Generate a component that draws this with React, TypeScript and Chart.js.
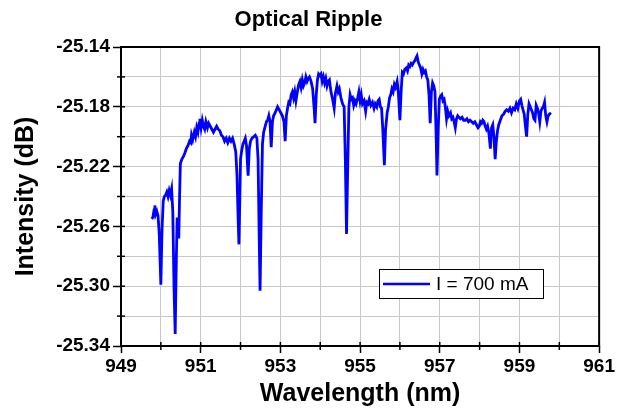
import { useEffect, useRef } from "react";
import { Chart, registerables } from "chart.js";

Chart.register(...registerables);

const chartTitle = "Optical Ripple";
const seriesLabel = "I = 700 mA";
const xAxisTitle = "Wavelength (nm)";
const yAxisTitle = "Intensity (dB)";

const xTickValues = [949, 950, 951, 952, 953, 954, 955, 956, 957, 958, 959, 960, 961];
const xLabelValues = [949, 951, 953, 955, 957, 959, 961];
const yTickValues = [-25.34, -25.32, -25.3, -25.28, -25.26, -25.24, -25.22, -25.2, -25.18, -25.16, -25.14];
const yLabelValues = [-25.34, -25.3, -25.26, -25.22, -25.18, -25.14];

const wavelengthNm = [
  949.77, 949.80, 949.83, 949.85, 949.87, 949.90, 949.93, 949.96, 950.00, 950.03,
  950.06, 950.09, 950.12, 950.15, 950.18, 950.21, 950.24, 950.27, 950.30, 950.33,
  950.36, 950.39, 950.41, 950.43, 950.45, 950.47, 950.49, 950.53, 950.57, 950.60,
  950.64, 950.68, 950.72, 950.75, 950.77, 950.80, 950.84, 950.87, 950.90, 950.93,
  950.96, 950.98, 951.01, 951.04, 951.07, 951.10, 951.13, 951.17, 951.20, 951.24,
  951.28, 951.32, 951.36, 951.40, 951.44, 951.48, 951.52, 951.56, 951.60, 951.64,
  951.68, 951.72, 951.76, 951.80, 951.84, 951.88, 951.91, 951.94, 951.96, 951.98,
  952.00, 952.03, 952.06, 952.09, 952.12, 952.15, 952.19, 952.22, 952.25, 952.29,
  952.33, 952.37, 952.41, 952.44, 952.47, 952.49, 952.52, 952.55, 952.58, 952.62,
  952.65, 952.68, 952.71, 952.74, 952.77, 952.80, 952.83, 952.87, 952.90, 952.93,
  952.97, 953.01, 953.05, 953.09, 953.12, 953.15, 953.18, 953.21, 953.24, 953.27,
  953.30, 953.33, 953.36, 953.39, 953.42, 953.46, 953.49, 953.52, 953.55, 953.58,
  953.61, 953.64, 953.67, 953.70, 953.73, 953.77, 953.81, 953.85, 953.87, 953.90,
  953.93, 953.96, 953.99, 954.02, 954.05, 954.08, 954.11, 954.14, 954.17, 954.20,
  954.23, 954.27, 954.31, 954.35, 954.38, 954.42, 954.45, 954.48, 954.52, 954.56,
  954.60, 954.63, 954.66, 954.69, 954.72, 954.75, 954.78, 954.81, 954.84, 954.87,
  954.90, 954.94, 954.97, 955.00, 955.03, 955.06, 955.10, 955.14, 955.17, 955.20,
  955.23, 955.27, 955.31, 955.35, 955.38, 955.42, 955.45, 955.48, 955.51, 955.54,
  955.57, 955.61, 955.64, 955.68, 955.71, 955.74, 955.77, 955.80, 955.83, 955.86,
  955.89, 955.93, 955.96, 956.00, 956.03, 956.06, 956.09, 956.12, 956.16, 956.19,
  956.22, 956.25, 956.28, 956.31, 956.35, 956.38, 956.41, 956.43, 956.46, 956.49,
  956.52, 956.55, 956.58, 956.61, 956.64, 956.67, 956.70, 956.73, 956.76, 956.79,
  956.82, 956.85, 956.88, 956.91, 956.93, 956.96, 956.99, 957.02, 957.05, 957.08,
  957.11, 957.14, 957.17, 957.20, 957.23, 957.27, 957.30, 957.33, 957.36, 957.39,
  957.42, 957.45, 957.48, 957.52, 957.56, 957.60, 957.64, 957.68, 957.72, 957.76,
  957.80, 957.84, 957.88, 957.92, 957.96, 957.99, 958.02, 958.05, 958.08, 958.11,
  958.14, 958.17, 958.20, 958.23, 958.27, 958.30, 958.33, 958.36, 958.39, 958.42,
  958.45, 958.48, 958.52, 958.56, 958.60, 958.64, 958.68, 958.72, 958.76, 958.80,
  958.84, 958.88, 958.92, 958.96, 959.00, 959.03, 959.06, 959.09, 959.12, 959.15,
  959.18, 959.21, 959.24, 959.27, 959.30, 959.33, 959.36, 959.39, 959.42, 959.45,
  959.48, 959.51, 959.54, 959.57, 959.60, 959.63, 959.66, 959.69, 959.72, 959.75,
  959.79,
];

const intensityDb = [
  -25.255, -25.254, -25.249, -25.246, -25.252, -25.250, -25.253, -25.265, -25.299, -25.262,
  -25.243, -25.240, -25.239, -25.237, -25.240, -25.236, -25.239, -25.235, -25.250, -25.300,
  -25.332, -25.280, -25.254, -25.262, -25.268, -25.240, -25.218, -25.215, -25.213, -25.211,
  -25.208, -25.206, -25.203, -25.204, -25.199, -25.202, -25.197, -25.200, -25.194, -25.197,
  -25.191, -25.188, -25.194, -25.189, -25.193, -25.195, -25.190, -25.194, -25.191, -25.193,
  -25.195, -25.197, -25.195, -25.193, -25.195, -25.196, -25.199, -25.200, -25.203, -25.201,
  -25.204, -25.201, -25.203, -25.201, -25.205, -25.210, -25.225, -25.255, -25.272, -25.245,
  -25.215, -25.209, -25.205, -25.203, -25.201, -25.206, -25.226, -25.208, -25.203, -25.201,
  -25.200, -25.199, -25.201, -25.215, -25.270, -25.303, -25.250, -25.205, -25.197, -25.193,
  -25.190, -25.189, -25.186, -25.190, -25.207, -25.190, -25.186, -25.184, -25.182, -25.180,
  -25.182, -25.184, -25.186, -25.190, -25.203, -25.186, -25.181, -25.177, -25.178, -25.172,
  -25.170, -25.174, -25.170, -25.176, -25.171, -25.165, -25.163, -25.167, -25.162, -25.166,
  -25.164, -25.160, -25.163, -25.161, -25.160, -25.163, -25.168, -25.182, -25.191, -25.172,
  -25.162, -25.158, -25.159, -25.158, -25.163, -25.160, -25.164, -25.161, -25.166, -25.163,
  -25.162, -25.170, -25.175, -25.181, -25.171, -25.166, -25.170, -25.168, -25.174, -25.178,
  -25.180, -25.215, -25.265, -25.220, -25.180, -25.172, -25.175, -25.174, -25.179, -25.176,
  -25.178, -25.174, -25.170, -25.176, -25.172, -25.178, -25.176, -25.183, -25.177, -25.178,
  -25.175, -25.179, -25.177, -25.181, -25.178, -25.180, -25.176, -25.175, -25.180, -25.181,
  -25.195, -25.219, -25.195, -25.184, -25.180, -25.174, -25.172, -25.168, -25.170, -25.165,
  -25.167, -25.163, -25.170, -25.189, -25.170, -25.157, -25.158, -25.155, -25.154, -25.156,
  -25.152, -25.153, -25.151, -25.152, -25.150, -25.149, -25.147, -25.146, -25.150, -25.152,
  -25.154, -25.158, -25.155, -25.157, -25.156, -25.160, -25.162, -25.172, -25.191, -25.170,
  -25.164, -25.166, -25.170, -25.200, -25.226, -25.195, -25.175, -25.173, -25.172, -25.176,
  -25.175, -25.180, -25.188, -25.183, -25.186, -25.184, -25.188, -25.187, -25.190, -25.194,
  -25.188, -25.186, -25.187, -25.188, -25.187, -25.189, -25.189, -25.188, -25.190, -25.189,
  -25.190, -25.191, -25.190, -25.192, -25.194, -25.193, -25.190, -25.191, -25.189, -25.190,
  -25.193, -25.195, -25.193, -25.197, -25.208, -25.194, -25.192, -25.200, -25.215, -25.203,
  -25.196, -25.192, -25.189, -25.186, -25.185, -25.183, -25.182, -25.183, -25.181, -25.184,
  -25.181, -25.182, -25.178, -25.181, -25.176, -25.175, -25.179, -25.182, -25.185, -25.193,
  -25.200, -25.185, -25.178, -25.180, -25.182, -25.184, -25.188, -25.189, -25.179, -25.181,
  -25.184, -25.190, -25.183, -25.181, -25.180, -25.177, -25.186, -25.190, -25.186, -25.185,
  -25.184,
];

const FONT = "'Liberation Sans', Arial, sans-serif";
const LINE_COLOR = "#0000ff";
const GRID_COLOR = "#c8c8c8";

const isLabelX = (v: number) => xLabelValues.some((l) => Math.abs(l - v) < 1e-6);
const isLabelY = (v: number) => yLabelValues.some((l) => Math.abs(l - v) < 1e-6);

const framePlugin = {
  id: "frameAndLegend",
  afterDraw(chart: any) {
    const { ctx, chartArea: a, scales } = chart;
    ctx.save();
    ctx.strokeStyle = "#000";
    ctx.lineWidth = 1.5;
    xTickValues.forEach((v) => {
      const px = scales.x.getPixelForValue(v);
      const major = isLabelX(v);
      ctx.beginPath();
      ctx.moveTo(px, a.bottom - 4);
      ctx.lineTo(px, a.bottom + (major ? 0 : 4));
      ctx.stroke();
    });
    yTickValues.forEach((v) => {
      const py = scales.y.getPixelForValue(v);
      const major = isLabelY(v);
      ctx.beginPath();
      ctx.moveTo(a.left + 4, py);
      ctx.lineTo(a.left - (major ? 0 : 4), py);
      ctx.stroke();
    });
    ctx.lineWidth = 2;
    ctx.strokeRect(a.left, a.top, a.right - a.left, a.bottom - a.top);

    const ds = chart.data.datasets[0];
    const lx = a.left + 258;
    const ly = a.top + 222;
    const lw = 164;
    const lh = 29;
    ctx.fillStyle = "#ffffff";
    ctx.fillRect(lx, ly, lw, lh);
    ctx.strokeStyle = "#000";
    ctx.lineWidth = 1;
    ctx.strokeRect(lx + 0.5, ly + 0.5, lw, lh);
    ctx.strokeStyle = ds.borderColor;
    ctx.lineWidth = 2.5;
    ctx.beginPath();
    ctx.moveTo(lx + 4, ly + lh / 2 + 0.5);
    ctx.lineTo(lx + 51, ly + lh / 2 + 0.5);
    ctx.stroke();
    ctx.fillStyle = "#000";
    ctx.font = `19px ${FONT}`;
    ctx.textBaseline = "middle";
    ctx.textAlign = "left";
    ctx.fillText(ds.label, lx + 57, ly + lh / 2 + 1.5);
    ctx.restore();
  },
};

export default function App() {
  const canvasRef = useRef<HTMLCanvasElement | null>(null);

  useEffect(() => {
    const canvas = canvasRef.current;
    if (!canvas) return;
    const points = wavelengthNm.map((x, i) => ({ x, y: intensityDb[i] }));
    const chart = new Chart(canvas, {
      type: "line",
      data: {
        datasets: [
          {
            label: seriesLabel,
            data: points,
            borderColor: LINE_COLOR,
            backgroundColor: LINE_COLOR,
            borderWidth: 2.8,
            pointRadius: 0,
            tension: 0,
            fill: false,
            yAxisID: "y",
          },
        ],
      },
      options: {
        responsive: false,
        animation: false,
        devicePixelRatio: 1,
        layout: { padding: { left: 0, right: 0, top: 0, bottom: 0 } },
        plugins: {
          legend: { display: false },
          tooltip: { enabled: false },
          title: {
            display: true,
            text: chartTitle,
            color: "#000",
            font: { family: FONT, size: 22, weight: "bold", lineHeight: 1.2 },
            padding: { top: 7, bottom: 13.6 },
          },
        },
        scales: {
          x: {
            type: "linear",
            min: 949,
            max: 961,
            afterBuildTicks: (scale: any) => {
              scale.ticks = xTickValues.map((value) => ({ value }));
            },
            afterFit: (scale: any) => {
              scale.height = 63;
            },
            border: { display: false },
            grid: {
              color: GRID_COLOR,
              lineWidth: 1,
              drawTicks: true,
              tickLength: 7,
              tickWidth: 1.5,
              tickColor: (ctx: any) => (ctx.tick && isLabelX(ctx.tick.value) ? "#000" : "rgba(0,0,0,0)"),
            },
            ticks: {
              autoSkip: false,
              maxRotation: 0,
              padding: 2,
              color: "#000",
              font: { family: FONT, size: 19, weight: "bold" },
              callback: (value: any) => (isLabelX(Number(value)) ? String(value) : ""),
            },
            title: {
              display: true,
              text: xAxisTitle,
              color: "#000",
              font: { family: FONT, size: 25, weight: "bold", lineHeight: 1.2 },
              padding: { top: 0, bottom: 0 },
            },
          },
          y: {
            type: "linear",
            position: "left",
            min: -25.34,
            max: -25.14,
            afterBuildTicks: (scale: any) => {
              scale.ticks = yTickValues.map((value) => ({ value }));
            },
            afterFit: (scale: any) => {
              scale.width = 121;
            },
            border: { display: false },
            grid: {
              color: GRID_COLOR,
              lineWidth: 1,
              drawTicks: true,
              tickLength: 8,
              tickWidth: 1.5,
              tickColor: (ctx: any) => (ctx.tick && isLabelY(ctx.tick.value) ? "#000" : "rgba(0,0,0,0)"),
            },
            ticks: {
              autoSkip: false,
              padding: 3,
              color: "#000",
              font: { family: FONT, size: 19, weight: "bold" },
              callback: (value: any) => (isLabelY(Number(value)) ? Number(value).toFixed(2) : ""),
            },
            title: {
              display: true,
              text: yAxisTitle,
              color: "#000",
              font: { family: FONT, size: 25, weight: "bold", lineHeight: 1.2 },
              padding: { top: 11, bottom: 0 },
            },
          },
          yRight: {
            type: "linear",
            position: "right",
            min: 0,
            max: 1,
            afterFit: (scale: any) => {
              scale.width = 16;
            },
            border: { display: false },
            grid: { display: false, drawTicks: false },
            ticks: { display: false },
          },
        },
      },
      plugins: [framePlugin],
    });
    return () => chart.destroy();
  }, []);

  return (
    <div style={{ position: "absolute", left: 0, top: 0, width: 617, height: 409, background: "#fff" }}>
      <canvas ref={canvasRef} width={617} height={409} style={{ display: "block" }} />
    </div>
  );
}
